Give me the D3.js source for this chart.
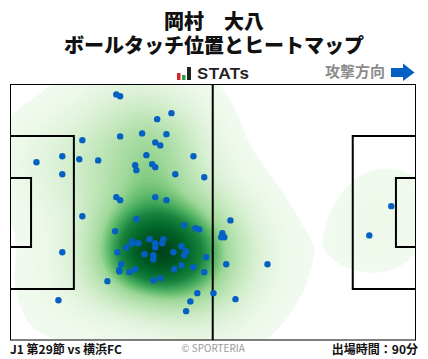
<!DOCTYPE html>
<html>
<head>
<meta charset="utf-8">
<script src="https://cdn.jsdelivr.net/npm/d3@7"></script>
<style>
  html, body { margin: 0; padding: 0; background: #fff; }
  text { font-family: "Noto Sans CJK JP", "Noto Sans", sans-serif; }
</style>
</head>
<body>
<svg id="chart" width="428" height="359"></svg>
<script>
// Ball touch positions, in metres on a 105 x 68 pitch.
const TOUCH_X = [27.3, 28.3, 41.6, 37.9, 34.0, 40.3, 28.3, 18.5, 37.4, 38.7, 35.1, 47.3, 13.3, 17.7, 22.6, 6.6, 32.2, 36.6, 37.4, 32.5, 13.3, 42.6, 50.1, 27.3, 28.3, 37.4, 40.3, 18.5, 32.5, 44.9, 47.8, 48.8, 27.0, 35.9, 39.5, 31.4, 31.4, 33.0, 37.4, 39.2, 29.9, 37.4, 44.2, 45.4, 27.6, 13.3, 42.1, 34.6, 36.9, 44.9, 36.9, 50.6, 28.6, 44.2, 47.3, 32.2, 42.3, 28.1, 28.1, 30.7, 50.1, 25.0, 36.9, 38.7, 48.3, 52.5, 46.5, 12.3, 45.4, 56.9, 54.8, 54.5, 55.3, 55.8, 66.5, 58.2, 92.9, 98.6];
const TOUCH_Y = [2.5, 3.0, 7.5, 9.1, 12.9, 13.1, 13.7, 14.7, 15.3, 16.1, 18.7, 19.0, 19.0, 19.8, 20.1, 20.6, 21.4, 21.1, 21.9, 22.7, 23.8, 23.8, 24.6, 29.9, 30.7, 29.9, 30.7, 35.0, 35.8, 37.4, 38.2, 38.5, 39.0, 41.1, 41.1, 41.7, 42.2, 42.2, 42.2, 42.2, 43.3, 43.3, 43.0, 44.3, 44.6, 44.6, 44.6, 45.1, 45.4, 45.4, 46.5, 45.9, 47.8, 48.1, 48.6, 49.1, 49.1, 49.7, 49.3, 49.9, 49.9, 52.3, 52.1, 51.5, 55.5, 55.5, 57.7, 57.4, 60.3, 36.1, 39.5, 40.6, 40.6, 47.8, 47.8, 57.1, 40.1, 32.3];

// pitch markings as drawn in the picture, in metres
const HALFWAY = 52.3;
const BOXES = [[0, 16.3, 13.6, 54.4], [0, 5.2, 24.8, 43.2], [105, 88.6, 13.6, 54.4], [105, 99.8, 24.8, 43.2]];

const PLAYER = '岡村　大八';
const SUBTITLE = 'ボールタッチ位置とヒートマップ';
const MATCH_LABEL = 'J1 第29節 vs 横浜FC';
const MINUTES_LABEL = '出場時間：90分';
const COPYRIGHT = '© SPORTERIA';
const DIRECTION_LABEL = '攻撃方向';

const INK = '#111';
const DOT = '#0560c4';

const m = { top: 85, left: 11, width: 405, height: 255 };
const svg = d3.select('#chart');

const x = d3.scaleLinear().domain([0, 105]).range([0, m.width]);
const y = d3.scaleLinear().domain([0, 68]).range([0, m.height]);
// density share -> position on the green ramp
const ramp = d3.scaleLinear().domain([0, 0.5, 0.75, 1]).range([0.02, 0.38, 0.78, 1]);

svg.append('defs').append('clipPath').attr('id', 'pitch-clip')
  .append('rect').attr('width', m.width).attr('height', m.height);

// titles
const title = svg.append('text').attr('text-anchor', 'middle').attr('fill', INK)
  .style('font-size', '20px').style('font-weight', '900');
title.append('tspan').attr('x', 214).attr('y', 29).text(PLAYER);
title.append('tspan').attr('x', 214).attr('y', 53).text(SUBTITLE);

// STATs logo
const logo = svg.append('g').attr('transform', 'translate(177,67)');
logo.append('rect').attr('x', 0).attr('y', 6).attr('width', 3.5).attr('height', 7).attr('fill', '#d8232a');
logo.append('rect').attr('x', 5).attr('y', 8).attr('width', 3.5).attr('height', 5).attr('fill', '#2a9d48');
logo.append('rect').attr('x', 10).attr('y', 0).attr('width', 4).attr('height', 13).attr('fill', '#222');
logo.append('text').attr('x', 20).attr('y', 12).attr('fill', '#222')
  .attr('textLength', 52).attr('lengthAdjust', 'spacingAndGlyphs')
  .style('font-family', 'Inter, "Noto Sans", sans-serif').style('font-size', '15px').style('font-weight', '600')
  .text('STATs');

// attack direction
svg.append('text').attr('x', 385).attr('y', 77).attr('text-anchor', 'end')
  .attr('fill', '#8c8c8c').style('font-size', '15px').style('font-weight', '700').text(DIRECTION_LABEL);
svg.append('path').attr('fill', '#0560c4')
  .attr('d', 'M391,68 H403 V63.5 L414.5,72.5 L403,81 V77 H391 Z');

const root = svg.append('g').attr('transform', `translate(${m.left},${m.top})`);
const pts = TOUCH_X.map((d, i) => ({ x: d, y: TOUCH_Y[i] }));

// heat map from the touch positions
const density = d3.contourDensity()
  .x(d => x(d.x)).y(d => y(d.y))
  .size([m.width, m.height])
  .cellSize(2)
  .bandwidth(31);
const contour = density.contours(pts);
const levels = d3.range(2.5, 100).map(i => i / 100);

root.append('g').attr('clip-path', 'url(#pitch-clip)')
  .selectAll('path').data(levels).join('path')
  .attr('d', t => d3.geoPath()(contour(t * contour.max)))
  .attr('fill', t => d3.interpolateGreens(ramp(t)));

// pitch lines
const lines = root.append('g').attr('fill', 'none').attr('stroke', '#000').attr('stroke-width', 2);
lines.append('line').attr('x1', x(HALFWAY)).attr('x2', x(HALFWAY)).attr('y1', 0).attr('y2', m.height);
BOXES.forEach(b => {
  lines.append('path').attr('d', `M${x(b[0])},${y(b[2])} H${x(b[1])} V${y(b[3])} H${x(b[0])}`);
});

// touches
root.append('g').selectAll('circle').data(pts).join('circle')
  .attr('cx', d => x(d.x)).attr('cy', d => y(d.y)).attr('r', 3.2).attr('fill', DOT);

root.append('rect').attr('x', -0.5).attr('y', -0.5).attr('width', m.width).attr('height', m.height + 0.5)
  .attr('fill', 'none').attr('stroke', '#000').attr('stroke-width', 1);

// footer
svg.append('text').attr('x', 10).attr('y', 354).attr('fill', INK)
  .style('font-size', '12px').style('font-weight', '700').text(MATCH_LABEL);
svg.append('text').attr('x', 213).attr('y', 352).attr('text-anchor', 'middle').attr('fill', '#9a9a9a')
  .style('font-size', '10px').text(COPYRIGHT);
svg.append('text').attr('x', 418).attr('y', 354).attr('text-anchor', 'end').attr('fill', INK)
  .style('font-size', '12px').style('font-weight', '700').text(MINUTES_LABEL);
</script>
</body>
</html>
